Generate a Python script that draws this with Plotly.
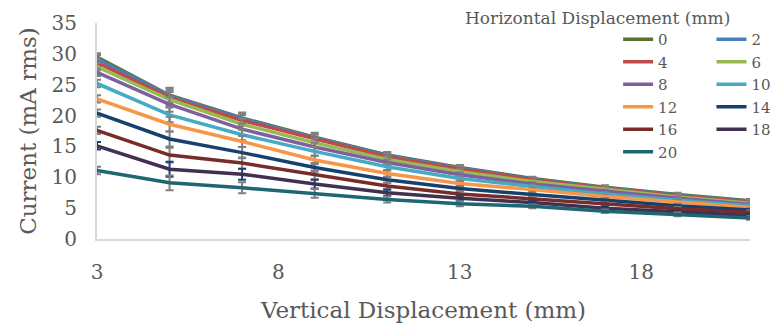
import plotly.graph_objects as go

# Vertical displacement (mm) where current was measured
vertical_mm = [3, 5, 7, 9, 11, 13, 15, 17, 19, 21]

# Current (mA rms) per horizontal displacement (mm)
current_h0 = [29.5, 23.3, 19.6, 16.5, 13.6, 11.6, 9.8, 8.4, 7.2, 6.2]
current_h2 = [29.2, 23.2, 19.5, 16.4, 13.5, 11.5, 9.7, 8.3, 7.1, 6.1]
current_h4 = [28.6, 22.9, 19.2, 16.2, 13.3, 11.3, 9.6, 8.2, 7.0, 6.0]
current_h6 = [27.9, 22.6, 18.6, 15.6, 12.9, 10.9, 9.3, 8.0, 6.8, 5.8]
current_h8 = [27.0, 21.8, 17.8, 14.9, 12.4, 10.4, 8.9, 7.7, 6.6, 5.6]
current_h10 = [25.2, 20.1, 16.9, 14.2, 11.7, 9.8, 8.5, 7.3, 6.3, 5.4]
current_h12 = [22.7, 18.6, 15.8, 12.8, 10.6, 9.0, 8.0, 6.9, 6.0, 5.1]
current_h14 = [20.4, 16.2, 14.0, 11.6, 9.6, 8.2, 7.2, 6.3, 5.4, 4.7]
current_h16 = [17.6, 13.6, 12.3, 10.4, 8.6, 7.3, 6.5, 5.6, 4.9, 4.3]
current_h18 = [15.1, 11.3, 10.5, 8.9, 7.5, 6.6, 5.9, 5.0, 4.4, 3.8]
current_h20 = [11.1, 9.1, 8.3, 7.4, 6.4, 5.7, 5.3, 4.5, 4.0, 3.4]

# error bar half-length (mA), estimated per vertical position
current_err = [0.6, 1.2, 0.9, 0.7, 0.5, 0.4, 0.3, 0.3, 0.3, 0.3]

series = [
    ("0", current_h0, "#5B7032", "legend"),
    ("2", current_h2, "#4A7EBB", "legend2"),
    ("4", current_h4, "#BE4B48", "legend"),
    ("6", current_h6, "#98B954", "legend2"),
    ("8", current_h8, "#7D60A0", "legend"),
    ("10", current_h10, "#46AAC5", "legend2"),
    ("12", current_h12, "#F79646", "legend"),
    ("14", current_h14, "#17406D", "legend2"),
    ("16", current_h16, "#772C2A", "legend"),
    ("18", current_h18, "#403152", "legend2"),
    ("20", current_h20, "#1E6673", "legend"),
]

FONT = "DejaVu Serif"
GREY = "#595959"

fig = go.Figure()
for name, values, color, legend in series:
    err_color = "#1F3F74" if name == "18" else "#808080"
    fig.add_trace(
        go.Scatter(
            x=vertical_mm,
            y=values,
            name=name,
            mode="lines",
            line=dict(color=color, width=3.5),
            error_y=dict(
                type="data",
                array=current_err,
                color=err_color,
                thickness=2,
                width=4,
            ),
            legend=legend,
        )
    )

legend_common = dict(
    font=dict(family=FONT, size=15, color=GREY),
    bgcolor="rgba(0,0,0,0)",
    yanchor="top",
    xanchor="left",
    y=1.0,
)

# page body adds an 8px offset, so the figure is 8px smaller on each axis
fig.update_layout(
    width=772,
    height=319,
    margin=dict(l=89, r=30, t=15, b=88, autoexpand=False),
    plot_bgcolor="white",
    paper_bgcolor="white",
    font=dict(family=FONT, color=GREY),
    legend=dict(x=0.798, **legend_common),
    legend2=dict(x=0.941, **legend_common),
    annotations=[
        dict(
            text="Horizontal Displacement (mm)",
            xref="paper",
            yref="paper",
            x=0.766,
            y=1.022,
            xanchor="center",
            yanchor="middle",
            showarrow=False,
            font=dict(family=FONT, size=17, color=GREY),
        )
    ],
)

fig.update_xaxes(
    range=[3, 21],
    tickvals=[3, 8, 13, 18],
    showgrid=False,
    zeroline=False,
    showline=True,
    linecolor="#D9D9D9",
    linewidth=2,
    ticks="",
    ticklabelstandoff=14,
    tickfont=dict(family=FONT, size=20, color=GREY),
    title=dict(
        text="Vertical Displacement (mm)",
        font=dict(family=FONT, size=23, color=GREY),
        standoff=19,
    ),
)
fig.update_yaxes(
    range=[0, 35],
    dtick=5,
    showgrid=False,
    zeroline=False,
    showline=True,
    linecolor="#D9D9D9",
    linewidth=2,
    ticks="",
    ticklabelstandoff=14,
    tickfont=dict(family=FONT, size=20, color=GREY),
    title=dict(
        text="Current (mA rms)",
        font=dict(family=FONT, size=23, color=GREY),
        standoff=8,
    ),
)

fig.write_html("out.html")
